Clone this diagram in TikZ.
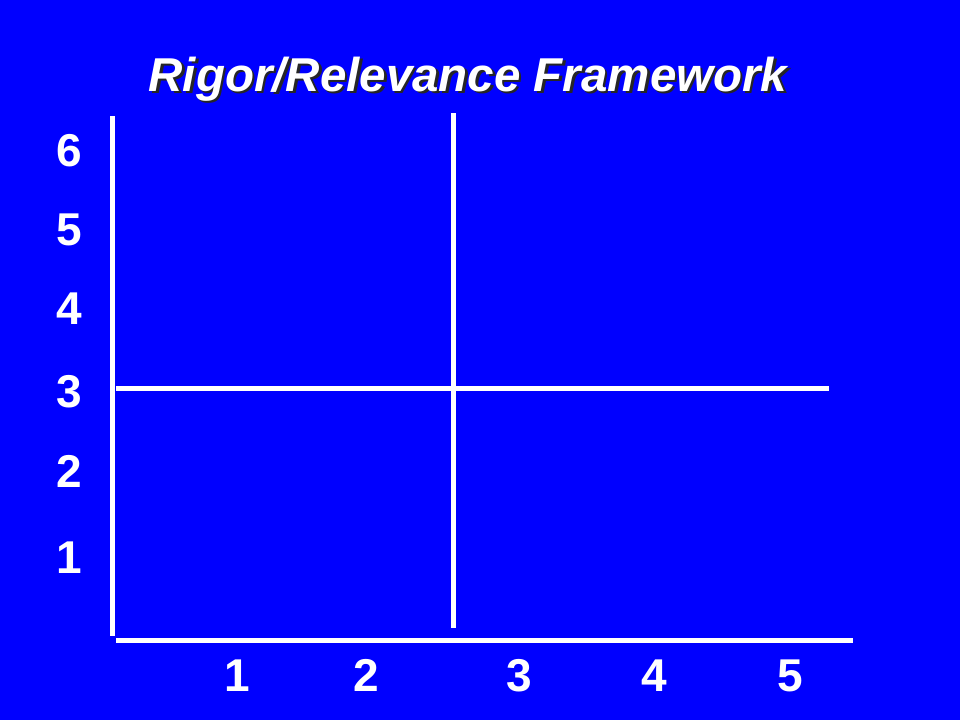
\documentclass[tikz,border=0pt]{standalone}
\usepackage{fontspec}
\setmainfont{Liberation Sans}
\definecolor{bgblue}{RGB}{0,0,255}
\begin{document}
\begin{tikzpicture}[x=1pt,y=-1pt,
  axis/.style={white,line width=5pt},
  numlbl/.style={text=white,font=\fontsize{46}{50}\selectfont\bfseries,anchor=base,inner sep=0pt},
  titletext/.style={font=\fontsize{47.5}{52}\selectfont\bfseries\itshape,anchor=base,inner sep=0pt}]
\fill[bgblue] (0,0) rectangle (960,720);
\useasboundingbox (0,0) rectangle (960,720);
% title with shadow
\node[titletext,text=black!85] (titleshadow) at (470.5,93.5) {Rigor/Relevance Framework};
\node[titletext,text=white] (title) at (468,91) {Rigor/Relevance Framework};
% axes and dividers
\coordinate (yTop) at (112,116);
\coordinate (yBot) at (112,636);
\coordinate (xL) at (116,640);
\coordinate (xR) at (853,640);
\coordinate (vTop) at (453,113);
\coordinate (vBot) at (453,628);
\coordinate (hL) at (116,388);
\coordinate (hR) at (829,388);
\draw[axis] (yTop) -- (yBot);
\draw[axis] (xL) -- (xR);
\draw[axis] (vTop) -- (vBot);
\draw[axis] (hL) -- (hR);
% y labels
\node[numlbl] (y6) at (69,166) {6};
\node[numlbl] (y5) at (69,245) {5};
\node[numlbl] (y4) at (69,324) {4};
\node[numlbl] (y3) at (69,407) {3};
\node[numlbl] (y2) at (69,487) {2};
\node[numlbl] (y1) at (69,573) {1};
% x labels
\node[numlbl] (x1) at (237,691) {1};
\node[numlbl] (x2) at (366,691) {2};
\node[numlbl] (x3) at (519,691) {3};
\node[numlbl] (x4) at (654,691) {4};
\node[numlbl] (x5) at (790,691) {5};
\end{tikzpicture}
\end{document}
